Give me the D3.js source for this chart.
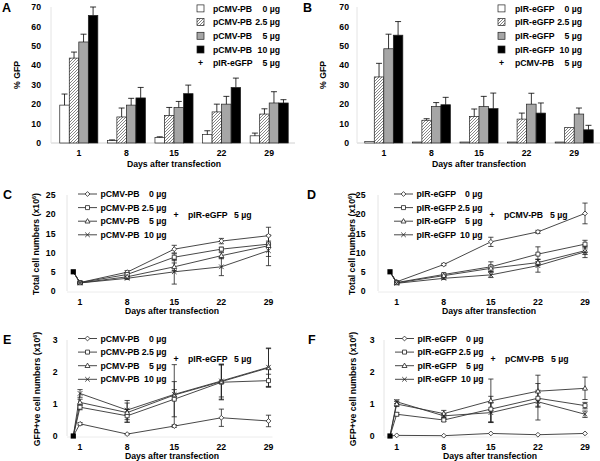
<!DOCTYPE html>
<html><head><meta charset="utf-8">
<script src="https://cdn.jsdelivr.net/npm/d3@7"></script>
<style>
body{margin:0;background:#fff}
text{font-family:"Liberation Sans",Arial,sans-serif;font-weight:bold;fill:#000}
</style>
</head><body><svg id="c" width="600" height="461"></svg>
<script>
// ---------- DATA ----------
const barDays = ["1", "8", "15", "22", "29"];
const lineDays = [0, 1, 8, 15, 22, 29];
const doses = ["0 µg", "2.5 µg", "5 µg", "10 µg"];
const gfpTicks = [0, 10, 20, 30, 40, 50, 60, 70];
const totalTicks = [0, 5, 10, 15, 20, 25];
const gfpCellTicks = [0, 1, 2, 3];

// Panel A: % GFP, pCMV-PB dose series (+ pIR-eGFP 5 µg)
const gfpA = [[19.5, 1.3, 2.9, 4.3, 3.7], [43.7, 13.4, 14.2, 16.0, 14.9], [52.0, 19.5, 18.3, 20.0, 20.6], [65.7, 23.2, 25.4, 28.6, 20.6]];
const gfpAErr = [[5.7, 0.3, 0.3, 2.0, 1.4], [3.1, 4.6, 4.1, 4.0, 2.7], [4.0, 3.5, 3.1, 4.0, 5.8], [4.3, 5.4, 4.4, 4.8, 1.7]];
// Panel B: % GFP, pIR-eGFP dose series (+ pCMV-PB 5 µg)
const gfpB = [[0.8, 0.5, 0.5, 0.5, 0.5], [34.0, 11.7, 13.7, 12.3, 8.0], [48.5, 18.8, 18.8, 20.0, 14.9], [55.5, 19.7, 17.7, 15.4, 6.8]];
const gfpBErr = [[0, 0, 0, 0, 0], [7.0, 0.8, 3.8, 3.1, 0], [7.5, 2.0, 5.2, 5.6, 3.1], [7.0, 3.8, 8.0, 5.2, 2.3]];

// Panel C: total cells (x10^6)
const totC = [[5, 2.2, 4.9, 10.9, 13.0, 14.4], [5, 2.2, 4.3, 8.8, 10.9, 12.2], [5, 2.1, 3.7, 6.3, 9.2, 11.8], [5, 2.1, 3.3, 5.0, 6.3, 10.5]];
const totCErr = [[0, 0.2, 0.4, 1.0, 0.7, 2.2], [0, 0.2, 0.4, 0.9, 0.5, 0.8], [0, 0.2, 0.3, 1.0, 0.8, 2.8], [0, 0.2, 0.3, 3.2, 2.3, 3.9]];
// Panel D
const totD = [[5, 2.4, 6.9, 12.8, 15.4, 20.2], [5, 2.2, 4.3, 6.3, 9.6, 12.2], [5, 2.1, 4.0, 5.9, 7.4, 10.5], [5, 2.0, 3.3, 4.2, 6.6, 10.2]];
const totDErr = [[0, 0.2, 0.3, 1.2, 0.4, 2.7], [0, 0.2, 0.3, 1.3, 1.9, 1.0], [0, 0.2, 0.3, 0.8, 0.8, 1.0], [0, 0.2, 0.3, 0.7, 1.7, 1.5]];
// Panel E: GFP+ve cells (x10^6)
const posE = [[0, 0.38, 0.06, 0.31, 0.57, 0.47], [0, 0.90, 0.63, 1.15, 1.68, 1.73], [0, 1.05, 0.73, 1.28, 1.70, 2.13], [0, 1.33, 0.81, 1.30, 1.72, 2.15]];
const posEErr = [[0, 0.04, 0.02, 0.04, 0.27, 0.18], [0, 0.08, 0.2, 0.55, 0.55, 0.2], [0, 0.1, 0.3, 0.95, 0.55, 0.6], [0, 0.12, 0.3, 0.15, 0.5, 0.6]];
// Panel F
const posF = [[0, 0.02, 0.01, 0.08, 0.04, 0.08], [0, 0.68, 0.50, 0.84, 1.18, 0.95], [0, 1.00, 0.70, 1.10, 1.40, 1.49], [0, 1.07, 0.63, 0.73, 1.07, 0.68]];
const posFErr = [[0, 0, 0, 0, 0, 0], [0, 0.05, 0.05, 0.4, 0.25, 0.1], [0, 0.08, 0.1, 0.68, 0.5, 0.35], [0, 0.06, 0.06, 0.3, 0.57, 0.1]];

// ---------- DRAWING ----------
const svg = d3.select("#c");
const FS = 8.7;
const defs = svg.append("defs");
const pat = defs.append("pattern").attr("id", "hatch").attr("patternUnits", "userSpaceOnUse").attr("width", 3).attr("height", 3);
pat.append("rect").attr("width", 3).attr("height", 3).attr("fill", "#fff");
pat.append("path").attr("d", "M-1,1 L1,-1 M0,3 L3,0 M2,4 L4,2").attr("stroke", "#777").attr("stroke-width", 0.9);
const fills = ["#fff", "url(#hatch)", "#a6a6a6", "#000"];

function txt(g, x, y, s, anchor, size) {
  return g.append("text").attr("x", x).attr("y", y).attr("text-anchor", anchor || "start")
    .attr("font-size", size || FS).text(s);
}

function yTitle(g, x, y, parts) {
  const t = g.append("text").attr("transform", `translate(${x},${y}) rotate(-90)`)
    .attr("text-anchor", "middle").attr("font-size", FS);
  t.append("tspan").text(parts[0]);
  if (parts.length > 1) {
    t.append("tspan").attr("font-size", 5.5).attr("dy", -3.5).text(parts[1]);
    t.append("tspan").attr("dy", 3.5).text(parts[2]);
  }
}

function barPanel(p) {
  const g = svg.append("g");
  const x0 = d3.scaleBand().domain(barDays).range(p.xr).paddingInner(0.2).paddingOuter(0.1);
  const x1 = d3.scaleBand().domain(d3.range(4)).range([0, x0.bandwidth()]);
  const y = d3.scaleLinear().domain([0, 70]).range([143, 7]);
  g.append("line").attr("x1", p.axisX).attr("x2", p.xr[1] + 2).attr("y1", y(0)).attr("y2", y(0)).attr("stroke", "#d0d0d0");
  g.append("line").attr("x1", p.axisX).attr("x2", p.axisX).attr("y1", y(0)).attr("y2", y(70)).attr("stroke", "#e4e4e4");
  g.selectAll(".yt").data(gfpTicks).join("text").attr("x", p.tickX).attr("y", d => y(d) + 3.2)
    .attr("text-anchor", "end").attr("font-size", FS).text(d => d);
  p.values.forEach((vals, s) => {
    g.selectAll(null).data(vals).join("rect")
      .attr("x", (d, i) => x0(barDays[i]) + x1(s)).attr("width", x1.bandwidth())
      .attr("y", d => y(d)).attr("height", d => y(0) - y(d))
      .attr("fill", fills[s]).attr("stroke", "#222").attr("stroke-width", 0.7);
    g.selectAll(null).data(vals).join("path")
      .attr("d", (d, i) => {
        const e = p.errs[s][i];
        if (!e) return null;
        const cx = x0(barDays[i]) + x1(s) + x1.bandwidth() / 2;
        return `M${cx},${y(d)}V${y(d + e)}M${cx - 3},${y(d + e)}H${cx + 3}`;
      })
      .attr("stroke", "#000").attr("stroke-width", 0.8).attr("fill", "none");
  });
  g.selectAll(".xt").data(barDays).join("text").attr("x", d => x0(d) + x0.bandwidth() / 2).attr("y", 156)
    .attr("text-anchor", "middle").attr("font-size", FS).text(d => d);
  txt(g, p.titleX, 167, "Days after transfection", "middle");
  yTitle(g, p.yTitleX, 75, ["% GFP"]);
  txt(g, p.letterX, 12, p.letter, "start", 12.5);
  // legend
  doses.forEach((d, i) => {
    const ry = 8.5 + i * 13.7;
    g.append("rect").attr("x", p.legX).attr("y", ry - 3.6).attr("width", 7).attr("height", 7)
      .attr("fill", fills[i]).attr("stroke", "#222").attr("stroke-width", 0.7);
    txt(g, p.legTextX, ry + 3, p.name);
    txt(g, p.legAmtX, ry + 3, d, "end");
  });
  const ry = 8.5 + 4 * 13.7;
  txt(g, p.legX + 3.5, ry + 3, "+", "middle");
  txt(g, p.legTextX, ry + 3, p.other);
  txt(g, p.legAmtX, ry + 3, "5 µg", "end");
}

function marker(g, type, cx, cy) {
  const s = 2.4;
  let d;
  if (type === 0) d = `M${cx},${cy - s}L${cx + s},${cy}L${cx},${cy + s}L${cx - s},${cy}Z`;
  else if (type === 1) d = `M${cx - 2},${cy - 2}h4v4h-4Z`;
  else if (type === 2) d = `M${cx},${cy - 2.6}L${cx + 2.5},${cy + 1.8}L${cx - 2.5},${cy + 1.8}Z`;
  else d = `M${cx - 2.3},${cy - 2.3}L${cx + 2.3},${cy + 2.3}M${cx - 2.3},${cy + 2.3}L${cx + 2.3},${cy - 2.3}`;
  g.append("path").attr("d", d).attr("fill", type === 3 ? "none" : "#fff").attr("stroke", "#222").attr("stroke-width", 0.8);
}

function linePanel(p) {
  const g = svg.append("g");
  const x = d3.scaleLinear().domain([0, 29]).range(p.xr);
  const y = d3.scaleLinear().domain([0, p.ticks[p.ticks.length - 1]]).range(p.yr);
  g.append("line").attr("x1", p.axisX).attr("x2", p.axisX).attr("y1", p.yr[0]).attr("y2", p.yr[1]).attr("stroke", "#e4e4e4");
  g.append("line").attr("x1", p.axisX).attr("x2", p.xr[1] + 4).attr("y1", p.yr[0] + 1).attr("y2", p.yr[0] + 1).attr("stroke", "#ececec");
  g.selectAll(".yt").data(p.ticks).join("text").attr("x", p.tickX).attr("y", d => y(d) + 3.2)
    .attr("text-anchor", "end").attr("font-size", FS).text(d => d);
  g.selectAll(".xt").data(lineDays.slice(1)).join("text").attr("x", d => x(d)).attr("y", p.yr[0] + 14)
    .attr("text-anchor", "middle").attr("font-size", FS).text(d => d);
  txt(g, p.titleX, p.yr[0] + 22.5, "Days after transfection", "middle");
  yTitle(g, p.yTitleX, (p.yr[0] + p.yr[1]) / 2 + 1, [p.yTitle, "6", ")"]);
  txt(g, p.letterX, p.yr[1] + 4, p.letter, "start", 12.5);
  const line = d3.line().x((d, i) => x(lineDays[i])).y(d => y(d));
  p.values.forEach((vals) => {
    g.append("path").attr("d", line(vals)).attr("fill", "none").attr("stroke", "#333").attr("stroke-width", 0.9);
  });
  p.values.forEach((vals, s) => {
    vals.forEach((v, i) => {
      const e = p.errs[s][i];
      if (e > 0) {
        const cx = x(lineDays[i]);
        g.append("path").attr("d", `M${cx},${y(v - e)}V${y(v + e)}M${cx - 2.6},${y(v - e)}H${cx + 2.6}M${cx - 2.6},${y(v + e)}H${cx + 2.6}`)
          .attr("stroke", "#222").attr("stroke-width", 0.8).attr("fill", "none");
      }
    });
  });
  p.values.forEach((vals, s) => {
    vals.forEach((v, i) => { if (i > 0) marker(g, s, x(lineDays[i]), y(v)); });
  });
  // day 0 starting point
  g.append("rect").attr("x", x(0) - 2.6).attr("y", y(p.values[0][0]) - 2.6).attr("width", 5.2).attr("height", 5.2).attr("fill", "#000");
  // legend
  doses.forEach((d, i) => {
    const ry = p.legY + i * 13.6;
    g.append("line").attr("x1", p.legX).attr("x2", p.legX + 19).attr("y1", ry).attr("y2", ry).attr("stroke", "#333").attr("stroke-width", 0.9);
    marker(g, i, p.legX + 9.5, ry);
    txt(g, p.legX + 22.5, ry + 3, p.name);
    txt(g, p.legX + 88.5, ry + 3, d, "end");
  });
  const py = p.legY + 20.5;
  txt(g, p.legX + 98, py + 3, "+", "middle");
  txt(g, p.legX + 110, py + 3, p.other);
  txt(g, p.legX + 173.5, py + 3, "5 µg", "end");
}

barPanel({ xr: [55, 293], axisX: 51, tickX: 41, titleX: 174, yTitleX: 20, letterX: 2, letter: "A",
  values: gfpA, errs: gfpAErr, name: "pCMV-PB", other: "pIR-eGFP", legX: 197, legTextX: 213, legAmtX: 280 });
barPanel({ xr: [360, 598], axisX: 357, tickX: 349, titleX: 479, yTitleX: 326, letterX: 303, letter: "B",
  values: gfpB, errs: gfpBErr, name: "pIR-eGFP", other: "pCMV-PB", legX: 498, legTextX: 515, legAmtX: 582 });

linePanel({ xr: [73.3, 268.5], yr: [291, 195], ticks: totalTicks, axisX: 67, tickX: 55.5, titleX: 172, yTitleX: 39,
  yTitle: "Total cell numbers (x10", letterX: 3, letter: "C", values: totC, errs: totCErr,
  name: "pCMV-PB", other: "pIR-eGFP", legY: 194, legX: 78 });
linePanel({ xr: [390, 585], yr: [291, 195], ticks: totalTicks, axisX: 378, tickX: 365.5, titleX: 489, yTitleX: 355,
  yTitle: "Total cell numbers (x10", letterX: 307, letter: "D", values: totD, errs: totDErr,
  name: "pIR-eGFP", other: "pCMV-PB", legY: 194, legX: 394 });
linePanel({ xr: [73.3, 268.5], yr: [436, 340], ticks: gfpCellTicks, axisX: 67, tickX: 57.5, titleX: 172, yTitleX: 40,
  yTitle: "GFP+ve cell numbers (x10", letterX: 3, letter: "E", values: posE, errs: posEErr,
  name: "pCMV-PB", other: "pIR-eGFP", legY: 338.5, legX: 78 });
linePanel({ xr: [390, 585], yr: [436, 340], ticks: gfpCellTicks, axisX: 384, tickX: 374.5, titleX: 490, yTitleX: 356,
  yTitle: "GFP+ve cell numbers (x10", letterX: 308, letter: "F", values: posF, errs: posFErr,
  name: "pIR-eGFP", other: "pCMV-PB", legY: 338.5, legX: 395 });
</script></body></html>
